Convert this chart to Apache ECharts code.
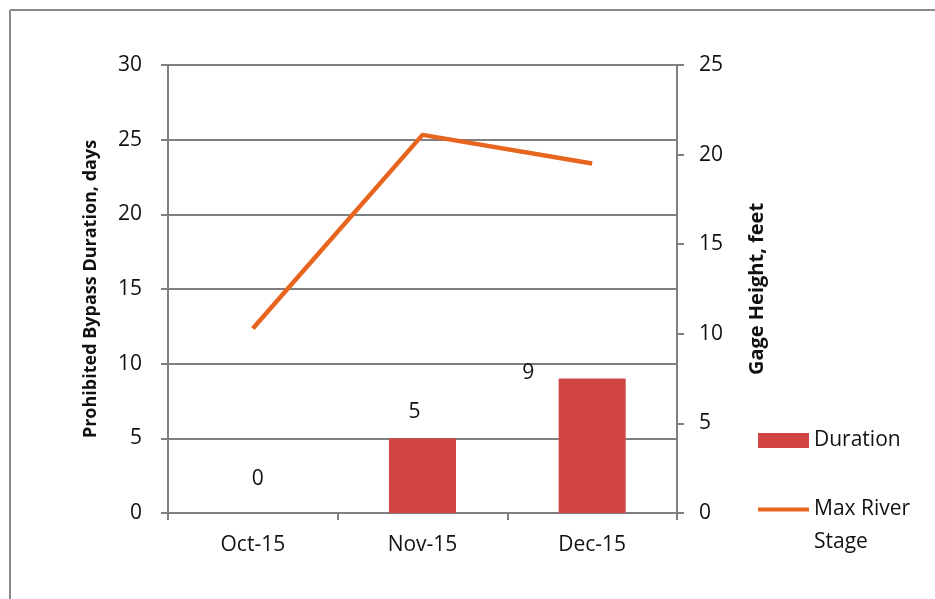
<!DOCTYPE html>
<html>
<head>
<meta charset="utf-8">
<script src="https://cdn.jsdelivr.net/npm/echarts@6/dist/echarts.min.js"></script>
<style>
html,body{margin:0;padding:0;background:#fff;}
#chart{width:935px;height:599px;}
</style>
</head>
<body>
<div id="chart"></div>
<script>
const categories = ['Oct-15', 'Nov-15', 'Dec-15'];
const durationDays = [0, 5, 9];
const maxRiverStage = [10.3, 21.1, 19.5];
const leftTicks = { min: 0, max: 30, interval: 5 };
const rightTicks = { min: 0, max: 25, interval: 5 };
// label offsets mimic the original's label placement (style only)
const labelOffsets = [[5, -18], [-8, -11], [-64, 10]];

const FONT = '"Open Sans", sans-serif';
const chart = echarts.init(document.getElementById('chart'));
chart.setOption({
  backgroundColor: '#fff',
  animation: false,
  textStyle: { fontFamily: FONT },
  grid: { left: 168, right: 258, top: 65, bottom: 86, containLabel: false },
  legend: {
    orient: 'vertical',
    left: 753,
    top: 419,
    itemWidth: 51,
    itemHeight: 15,
    itemGap: 3,
    textStyle: { fontFamily: FONT, fontSize: 21, color: '#111', lineHeight: 33 },
    formatter: function (n) { return n === 'Max River Stage' ? '\nMax River\nStage' : n; },
    data: [
      { name: 'Duration', icon: 'rect' },
      { name: 'Max River Stage', icon: 'path://M0,0 H52 V4 H0 Z', itemStyle: { color: '#E8651F' } }
    ]
  },
  xAxis: {
    type: 'category',
    data: categories,
    axisLine: { lineStyle: { color: '#7f7f7f', width: 2 } },
    axisTick: { show: true, inside: false, length: 7, lineStyle: { color: '#7f7f7f', width: 2 } },
    axisLabel: { fontFamily: FONT, fontSize: 21, color: '#111', margin: 22 },
    splitLine: { show: false }
  },
  yAxis: [
    {
      type: 'value',
      min: leftTicks.min, max: leftTicks.max, interval: leftTicks.interval,
      name: 'Prohibited Bypass Duration, days',
      nameLocation: 'middle',
      nameGap: 68,
      nameRotate: 90,
      nameTextStyle: { fontFamily: FONT, fontSize: 18, fontWeight: 'bold', color: '#111' },
      axisLine: { show: true, lineStyle: { color: '#7f7f7f', width: 2 } },
      axisTick: { show: true, length: 7, lineStyle: { color: '#7f7f7f', width: 2 } },
      axisLabel: { fontFamily: FONT, fontSize: 21, color: '#111', margin: 26 },
      splitLine: { show: true, lineStyle: { color: '#7f7f7f', width: 2 } }
    },
    {
      type: 'value',
      min: rightTicks.min, max: rightTicks.max, interval: rightTicks.interval,
      name: 'Gage Height, feet',
      nameLocation: 'middle',
      nameGap: 70,
      nameRotate: 90,
      nameTextStyle: { fontFamily: FONT, fontSize: 20, fontWeight: 'bold', color: '#111' },
      position: 'right',
      axisLine: { show: true, lineStyle: { color: '#7f7f7f', width: 2 } },
      axisTick: { show: true, length: 7, lineStyle: { color: '#7f7f7f', width: 2 } },
      axisLabel: { fontFamily: FONT, fontSize: 21, color: '#111', margin: 22 },
      splitLine: { show: false }
    }
  ],
  series: [
    {
      name: 'Duration',
      type: 'bar',
      yAxisIndex: 0,
      barWidth: '39.5%',
      itemStyle: { color: '#D14545' },
      data: durationDays.map((v, i) => ({
        value: v,
        label: { offset: labelOffsets[i] }
      })),
      label: {
        show: true,
        position: 'top',
        distance: 5,
        fontFamily: FONT,
        fontSize: 21,
        color: '#111'
      }
    },
    {
      name: 'Max River Stage',
      type: 'line',
      yAxisIndex: 1,
      data: maxRiverStage,
      symbol: 'none',
      lineStyle: { color: '#E8651F', width: 4.5 },
      itemStyle: { color: '#E8651F' }
    }
  ],
  graphic: [
    { type: 'line', shape: { x1: 10, y1: 10, x2: 935, y2: 10 }, style: { stroke: '#8a8a8a', lineWidth: 2 }, silent: true },
    { type: 'line', shape: { x1: 10, y1: 10, x2: 10, y2: 599 }, style: { stroke: '#8a8a8a', lineWidth: 2 }, silent: true }
  ]
});
</script>
</body>
</html>
